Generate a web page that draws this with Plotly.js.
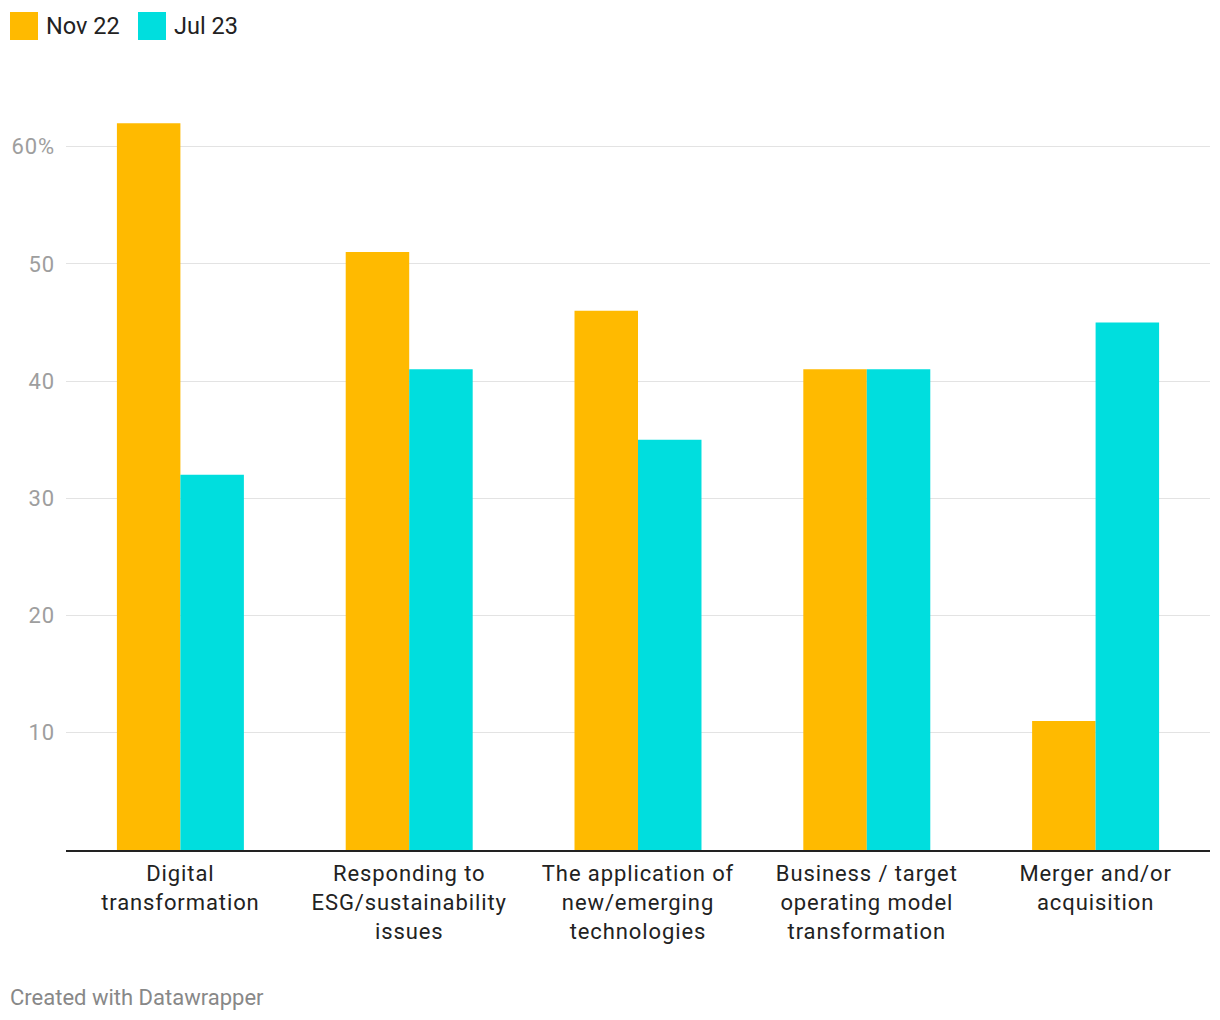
<!DOCTYPE html>
<html>
<head>
<meta charset="utf-8">
<script src="https://cdn.plot.ly/plotly-3.0.1.min.js"></script>
<style>
html,body{margin:0;padding:0;background:#fff;}
#chart{width:1220px;height:1020px;}
#chart .xtick text, #chart .ytick text{letter-spacing:0.9px;}
</style>
</head>
<body>
<div id="chart"></div>
<script>
const categories = [
  "Digital<br>transformation",
  "Responding to<br>ESG/sustainability<br>issues",
  "The application of<br>new/emerging<br>technologies",
  "Business / target<br>operating model<br>transformation",
  "Merger and/or<br>acquisition"
];
const seriesNames = ["Nov 22", "Jul 23"];
const nov22 = [62, 51, 46, 41, 11];
const jul23 = [32, 41, 35, 41, 45];
const seriesColors = ["#ffba00", "#00dede"];
const tickValues = [10, 20, 30, 40, 50, 60];
const tickLabels = ["10", "20", "30", "40", "50", "60%"];

const W = 1220, H = 1020;
const mL = 66, mR = 10, mT = 88, mB = 170;
const plotW = W - mL - mR, plotH = H - mT - mB;
const px2x = p => (p - mL) / plotW;
const px2y = p => (H - mB - p) / plotH;

const traces = [nov22, jul23].map((vals, i) => ({
  type: "bar",
  name: seriesNames[i],
  x: categories,
  y: vals,
  marker: {color: seriesColors[i], line: {width: 0}},
  hoverinfo: "x+y+name"
}));

const shapes = [];
const annotations = [];
// legend drawn manually
const legendItems = [{x: 10, label: seriesNames[0], c: seriesColors[0]}, {x: 138, label: seriesNames[1], c: seriesColors[1]}];
legendItems.forEach(it => {
  shapes.push({type: "rect", xref: "paper", yref: "paper",
    x0: px2x(it.x), x1: px2x(it.x + 28), y0: px2y(40), y1: px2y(12),
    fillcolor: it.c, line: {width: 0}});
  annotations.push({xref: "paper", yref: "paper", x: px2x(it.x + 34), y: px2y(26),
    xanchor: "left", yanchor: "middle", showarrow: false, text: it.label,
    font: {family: "Roboto, sans-serif", size: 23.5, color: "#222"}});
});
annotations.push({xref: "paper", yref: "paper", x: px2x(8), y: px2y(997),
  xanchor: "left", yanchor: "middle", showarrow: false, text: "Created with Datawrapper",
  font: {family: "Roboto, sans-serif", size: 22, color: "#888"}});

const layout = {
  width: W, height: H,
  margin: {l: mL, r: mR, t: mT, b: mB, pad: 0},
  paper_bgcolor: "#fff", plot_bgcolor: "#fff",
  barmode: "group",
  bargap: 0.445,
  bargroupgap: 0,
  showlegend: false,
  font: {family: "Roboto, sans-serif", color: "#222"},
  xaxis: {
    type: "category",
    showgrid: false, zeroline: false,
    showline: true, linecolor: "#222", linewidth: 2,
    ticks: "", ticklabelstandoff: 3,
    tickfont: {family: "Roboto, sans-serif", size: 22, color: "#222"},
    fixedrange: true
  },
  yaxis: {
    range: [0, 65],
    tickvals: tickValues, ticktext: tickLabels,
    showgrid: true, gridcolor: "#e3e3e3", gridwidth: 1,
    zeroline: false, showline: false, ticks: "",
    ticklabelstandoff: 10,
    tickfont: {family: "Roboto, sans-serif", size: 22, color: "#9e9e9e"},
    fixedrange: true
  },
  shapes: shapes,
  annotations: annotations
};

Plotly.newPlot("chart", traces, layout, {displayModeBar: false, staticPlot: true});
</script>
</body>
</html>
